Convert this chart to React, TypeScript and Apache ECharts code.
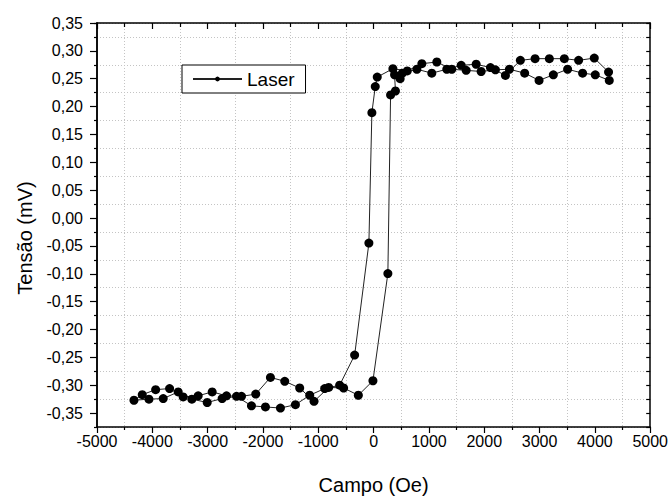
import React, { useEffect, useRef } from "react";
import * as echarts from "echarts";

// Descending branch (from positive saturation to negative)
const campoDesc = [
  4260, 4007, 3778, 3507, 3249, 2991, 2731, 2455, 2202, 1944, 1673, 1413, 1143, 872, 608, 349, 66, 30, -31,
  -85, -343, -614, -884, -1155, -1413, -1684, -1955, -2208, -2478, -2738, -3008, -3285, -3532, -3803, -4061,
  -4332,
];
const tensaoDesc = [
  0.247, 0.257, 0.26, 0.267, 0.257, 0.247, 0.26, 0.267, 0.266, 0.263, 0.265, 0.267, 0.28, 0.277, 0.264, 0.268,
  0.253, 0.236, 0.189, -0.045, -0.246, -0.3, -0.306, -0.318, -0.335, -0.341, -0.339, -0.337, -0.32, -0.324,
  -0.331, -0.325, -0.312, -0.324, -0.325, -0.327,
];
// Ascending branch (from negative saturation to positive)
const campoAsc = [
  -4182, -3940, -3688, -3442, -3171, -2918, -2659, -2388, -2130, -1865, -1606, -1336, -1077, -812, -542, -276,
  -12, 258, 307, 395, 379, 480, 518, 782, 1052, 1323, 1583, 1854, 2112, 2383, 2653, 2919, 3177, 3448, 3706,
  3989, 4247,
];
const tensaoAsc = [
  -0.317, -0.308, -0.306, -0.321, -0.319, -0.312, -0.319, -0.32, -0.316, -0.286, -0.293, -0.305, -0.329,
  -0.304, -0.305, -0.318, -0.292, -0.0996, 0.221, 0.228, 0.257, 0.25, 0.26, 0.267, 0.26, 0.267, 0.274, 0.276,
  0.27, 0.256, 0.283, 0.286, 0.286, 0.286, 0.283, 0.287, 0.262,
];

const Y_TICKS = [-0.35, -0.3, -0.25, -0.2, -0.15, -0.1, -0.05, 0, 0.05, 0.1, 0.15, 0.2, 0.25, 0.3, 0.35];
const X_MIN = -5000;
const X_MAX = 5000;
const Y_MIN = -0.375;
const Y_MAX = 0.35;

const FONT = "'Liberation Sans', Arial, sans-serif";

export default function App() {
  const ref = useRef<HTMLDivElement>(null);

  useEffect(() => {
    document.body.style.margin = "0";
    if (!ref.current) return;
    const chart = echarts.init(ref.current, null, { renderer: "svg" });

    const data: number[][] = [];
    campoDesc.forEach((x, i) => data.push([x, tensaoDesc[i]]));
    campoAsc.forEach((x, i) => data.push([x, tensaoAsc[i]]));

    const axisLine = { show: true, onZero: false, lineStyle: { color: "#000", width: 1.5 } };
    const tickLine = { color: "#000", width: 1.2 };
    const gridLine = { color: "#c4c4c4", width: 1, type: [1, 2] as any };

    const fmtY = (v: number) => {
      if (Math.abs(v) < 1e-9) return "0,00";
      return v.toFixed(2).replace(".", ",");
    };
    const fmtX = (v: number) => String(Math.round(v));

    chart.setOption({
      animation: false,
      backgroundColor: "#fff",
      grid: { left: 97, right: 20, top: 23, bottom: 67 },
      legend: {
        data: ["Laser"],
        left: 182,
        top: 65,
        itemWidth: 49,
        itemHeight: 6,
        borderColor: "#000",
        borderWidth: 1,
        backgroundColor: "#fff",
        padding: [4, 11, 4, 10],
        selectedMode: false,
        textStyle: { fontSize: 19, color: "#000", fontFamily: FONT, lineHeight: 20 },
      },
      xAxis: [
        {
          type: "value",
          position: "bottom",
          min: X_MIN,
          max: X_MAX,
          interval: 1000,
          axisLine,
          axisTick: { show: true, inside: false, length: 6, lineStyle: tickLine },
          minorTick: { show: true, splitNumber: 2, length: 3, lineStyle: tickLine },
          minorSplitLine: { show: true, lineStyle: gridLine },
          splitLine: { show: false },
          axisLabel: { formatter: fmtX, fontSize: 16, color: "#000", fontFamily: FONT, margin: 6 },
          name: "Campo (Oe)",
          nameLocation: "middle",
          nameGap: 48,
          nameTextStyle: { fontSize: 20, color: "#000", fontFamily: FONT },
        },
        {
          type: "value",
          position: "top",
          min: X_MIN,
          max: X_MAX,
          interval: 1000,
          axisLine,
          axisTick: { show: true, inside: true, length: 6, lineStyle: tickLine },
          minorTick: { show: true, splitNumber: 2, length: 4, lineStyle: tickLine },
          splitLine: { show: false },
          axisLabel: { show: false },
        },
      ],
      yAxis: [
        {
          type: "value",
          position: "left",
          min: Y_MIN,
          max: Y_MAX,
          interval: 0.025,
          axisLine,
          axisTick: { show: true, inside: false, length: 7, customValues: Y_TICKS, lineStyle: tickLine },
          axisLabel: {
            customValues: Y_TICKS,
            formatter: fmtY,
            fontSize: 16,
            color: "#000",
            fontFamily: FONT,
            margin: 14,
          },
          splitLine: { show: false },
          name: "Tensão (mV)",
          nameLocation: "middle",
          nameGap: 62,
          nameTextStyle: { fontSize: 20, color: "#000", fontFamily: FONT, padding: [0, 26, 0, 0] },
        },
        {
          type: "value",
          position: "left",
          min: Y_MIN,
          max: Y_MAX,
          interval: 0.05,
          axisLine,
          axisTick: { show: true, inside: false, length: 3, lineStyle: tickLine },
          axisLabel: { show: false },
          splitLine: { show: true, lineStyle: gridLine },
        },
        {
          type: "value",
          position: "right",
          min: Y_MIN,
          max: Y_MAX,
          interval: 0.025,
          axisLine,
          axisTick: { show: true, inside: true, length: 4, lineStyle: tickLine },
          axisLabel: { show: false },
          splitLine: { show: false },
        },
      ],
      series: [
        {
          type: "line",
          name: "Laser",
          xAxisIndex: 0,
          yAxisIndex: 0,
          data,
          symbol: "circle",
          symbolSize: 9,
          showSymbol: true,
          itemStyle: { color: "#000" },
          lineStyle: { color: "#222", width: 1 },
          z: 3,
        },
      ],
    });

    return () => chart.dispose();
  }, []);

  return <div ref={ref} style={{ width: 671, height: 500 }} />;
}
